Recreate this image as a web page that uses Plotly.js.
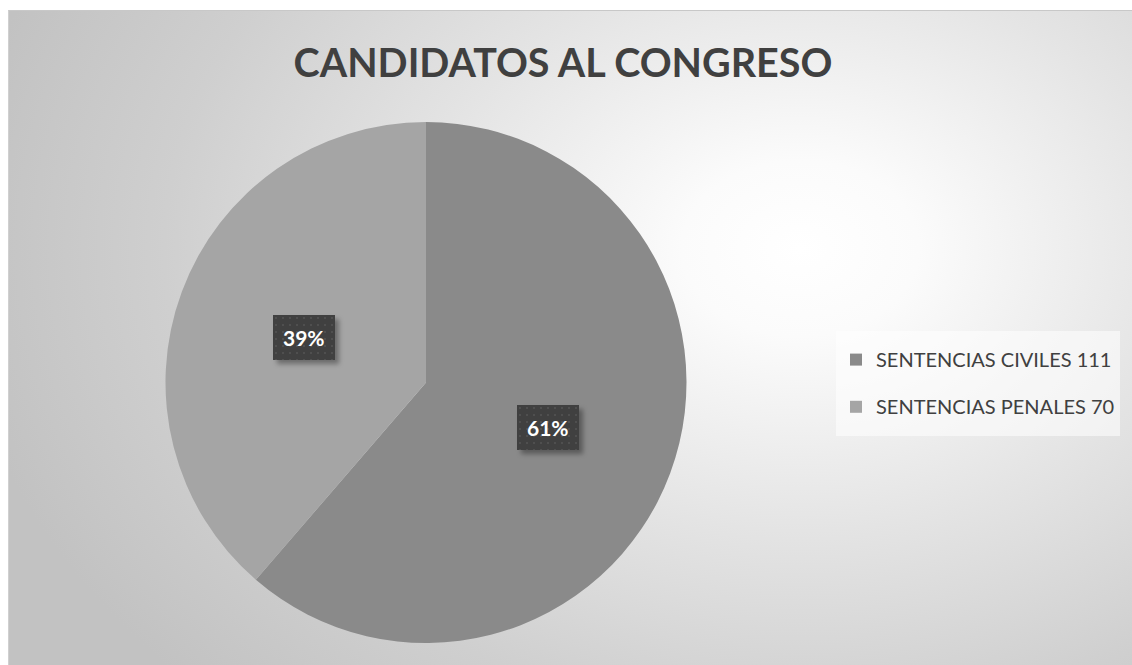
<!DOCTYPE html>
<html>
<head>
<meta charset="utf-8">
<script src="https://cdn.plot.ly/plotly-3.0.1.min.js"></script>
<style>
  html, body { margin: 0; padding: 0; width: 1132px; height: 665px; background: #ffffff; overflow: hidden; }
  #frame { position: absolute; left: 8px; top: 10px; width: 1130px; height: 660px;
    border-top: 1px solid #c8c8c8; border-left: 1px solid #d0d0d0;
    background: radial-gradient(ellipse 75% 95% at 70% 36%, #ffffff 0%, #fbfbfb 14%, #e4e4e4 45%, #cfcfcf 75%, #c2c2c2 100%); }
  #chart { position: absolute; left: 0; top: 0; width: 1132px; height: 665px; }
</style>
</head>
<body>
<div id="frame"></div>
<div id="chart"></div>
<script>
const categories = ["SENTENCIAS CIVILES 111", "SENTENCIAS PENALES 70"];
const values = [111, 70];
const sliceColors = ["#8a8a8a", "#a5a5a5"];
const titleText = "CANDIDATOS AL CONGRESO";

const W = 1132, H = 665;
// pie geometry in pixels
const cx = 426, cy = 382.5, r = 260.5;
const domain = { x: [(cx - r) / W, (cx + r) / W], y: [1 - (cy + r) / H, 1 - (cy - r) / H] };

const total = values.reduce((a, b) => a + b, 0);
const annotations = [];
let cum = 0;
values.forEach((v, i) => {
  const frac = v / total;
  const mid = (cum + frac / 2) * 2 * Math.PI;
  cum += frac;
  const px = cx + 0.5 * r * Math.sin(mid);
  const py = cy - 0.5 * r * Math.cos(mid);
  const pct = Math.round(frac * 100) + "%";
  annotations.push({ xref: "paper", yref: "paper", x: px / W, y: 1 - py / H, showarrow: false,
    xanchor: "center", yanchor: "middle", borderpad: 10, borderwidth: 0,
    text: "<b>" + pct + "</b>", bgcolor: "#424242",
    font: { family: "Lato", size: 21, color: "#ffffff" } });
});

const trace = {
  type: "pie",
  labels: categories.map(c => '<span style="font-size:20px">' + c + '</span>'),
  values: values,
  marker: { colors: sliceColors, line: { width: 0 } },
  sort: false,
  direction: "clockwise",
  rotation: 0,
  textinfo: "none",
  hoverinfo: "label+percent",
  domain: domain
};

const layout = {
  width: W, height: H,
  margin: { l: 0, r: 0, t: 0, b: 0 },
  paper_bgcolor: "rgba(0,0,0,0)",
  plot_bgcolor: "rgba(0,0,0,0)",
  title: { text: "<b>" + titleText + "</b>", x: 563 / W, xanchor: "center", y: 1 - 63 / H, yanchor: "middle",
    font: { family: "Lato", size: 39.5, color: "#404040" } },
  showlegend: true,
  legend: {
    x: 836 / W, xanchor: "left", y: 1 - 331 / H, yanchor: "top",
    bgcolor: "rgba(255,255,255,0.55)", borderwidth: 0,
    font: { family: "Lato", size: 34, color: "#404040" },
    itemclick: false, itemdoubleclick: false
  },
  annotations: annotations
};

Plotly.newPlot("chart", [trace], layout, { displayModeBar: false, staticPlot: true }).then(gd => {
  const ns = "http://www.w3.org/2000/svg";
  const svg = gd.querySelector("svg.main-svg");
  let defs = svg.querySelector("defs");
  if (!defs) { defs = document.createElementNS(ns, "defs"); svg.insertBefore(defs, svg.firstChild); }
  const f = document.createElementNS(ns, "filter");
  f.setAttribute("id", "lblshadow"); f.setAttribute("x", "-30%"); f.setAttribute("y", "-30%");
  f.setAttribute("width", "170%"); f.setAttribute("height", "170%");
  f.innerHTML = '<feDropShadow dx="4" dy="4" stdDeviation="2.5" flood-color="#000" flood-opacity="0.35"/>';
  defs.appendChild(f);
  const p = document.createElementNS(ns, "pattern");
  p.setAttribute("id", "lbldots"); p.setAttribute("width", "7"); p.setAttribute("height", "7");
  p.setAttribute("patternUnits", "userSpaceOnUse");
  p.innerHTML = '<rect width="7" height="7" fill="#414141"/><rect x="2" y="2" width="2" height="2" fill="#505050"/>';
  defs.appendChild(p);
  gd.querySelectorAll(".annotation rect.bg").forEach(rc => {
    rc.setAttribute("filter", "url(#lblshadow)");
    rc.style.fill = "url(#lbldots)";
  });
  gd.querySelectorAll(".legendtext").forEach(t => t.setAttribute("y", "7"));
});
</script>
</body>
</html>
